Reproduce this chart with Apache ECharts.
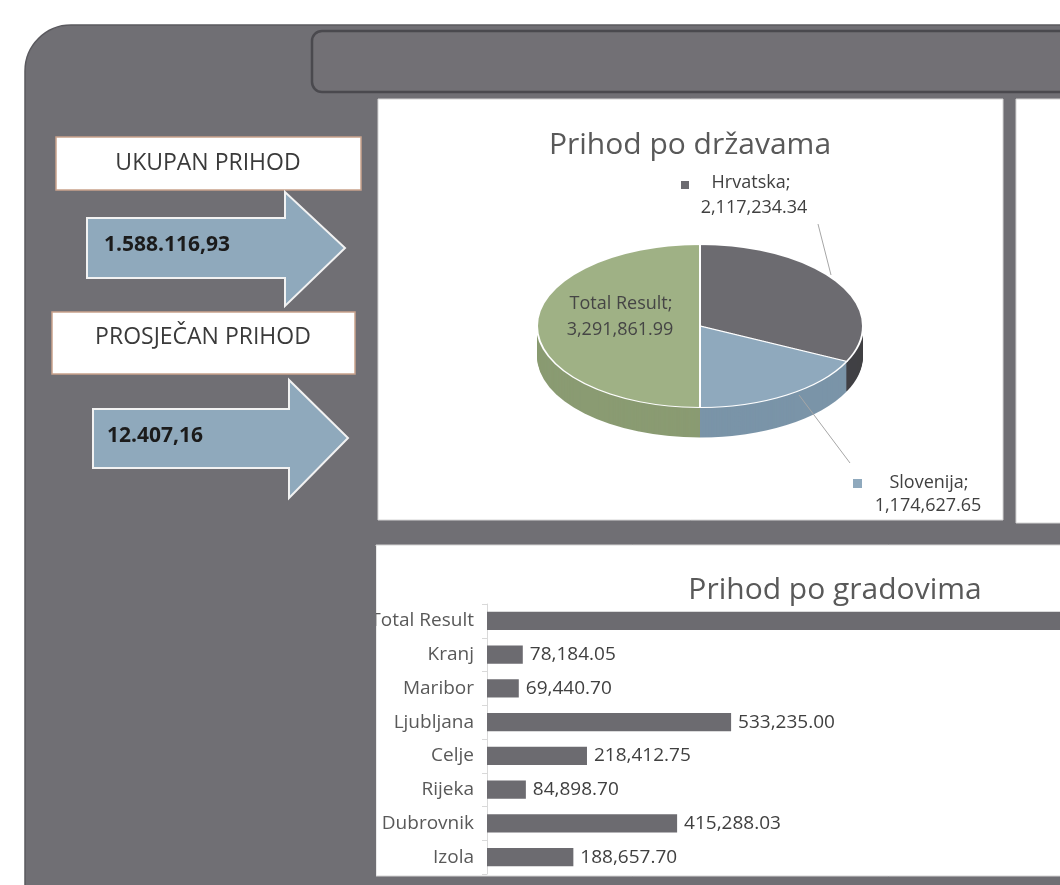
<!DOCTYPE html>
<html><head><meta charset="utf-8">
<script src="https://cdn.jsdelivr.net/npm/echarts@6/dist/echarts.min.js"></script>
<style>
html,body{margin:0;padding:0;overflow:hidden;background:#fff;width:1060px;height:885px;}
#main{position:absolute;left:0;top:0;width:1400px;height:885px;}
#pie{position:absolute;left:500px;top:236px;width:400px;height:460px;transform:scaleY(0.5);transform-origin:0 0;}
#over{position:absolute;left:0;top:0;width:1060px;height:885px;pointer-events:none;}
</style></head><body>
<div id="main"></div><div id="pie"></div><div id="over"></div>
<script>
// ---------- data ----------
const kpiLabels = ['UKUPAN PRIHOD', 'PROSJEČAN PRIHOD'];
const kpiValues = [1588116.93, 12407.16];
const pieTitle = 'Prihod po državama';
const countries = ['Hrvatska', 'Slovenija', 'Total Result'];
const countryValues = [2117234.34, 1174627.65, 3291861.99];
const barTitle = 'Prihod po gradovima';
const cities = ['Total Result', 'Kranj', 'Maribor', 'Ljubljana', 'Celje', 'Rijeka', 'Dubrovnik', 'Izola'];
const cityValues = [1588116.93, 78184.05, 69440.70, 533235.00, 218412.75, 84898.70, 415288.03, 188657.70];

// ---------- helpers ----------
function group3(s, sep) { return s.replace(/\B(?=(\d{3})+$)/g, sep); }
function fmtEN(n) { const p = n.toFixed(2).split('.'); return group3(p[0], ',') + '.' + p[1]; }
function fmtHR(n) { const p = n.toFixed(2).split('.'); return group3(p[0], '.') + ',' + p[1]; }

const FONT = '"Open Sans", "Noto Sans", sans-serif';
const BG = '#706f74';
const topColors = ['#6c6b70', '#8fa9bd', '#9fb185'];
const sideColors = ['#414045', '#7a94a8', '#8a9b72'];

// ---------- main dashboard ----------
const main = echarts.init(document.getElementById('main'), null, {renderer: 'canvas'});
const graphic = [
  {type: 'rect', z: 0, shape: {x: 25, y: 25, width: 1500, height: 1000, r: [46, 0, 0, 0]}, style: {fill: BG, stroke: '#5a595e', lineWidth: 1.5}},
  {type: 'rect', z: 0, shape: {x: 312, y: 31, width: 1200, height: 61, r: 10}, style: {fill: '#727075', stroke: '#4a494e', lineWidth: 2.5}},
  {type: 'rect', z: 0, shape: {x: 378, y: 99, width: 625, height: 421}, style: {fill: '#fff', stroke: '#d4d4d4', lineWidth: 1}},
  {type: 'rect', z: 0, shape: {x: 1016, y: 99, width: 500, height: 424}, style: {fill: '#fff', stroke: '#d4d4d4', lineWidth: 1}},
  {type: 'rect', z: 0, shape: {x: 376, y: 545, width: 1200, height: 331}, style: {fill: '#fff', stroke: '#d4d4d4', lineWidth: 1}},
  // KPI boxes
  {type: 'rect', z: 1, shape: {x: 56, y: 137, width: 305, height: 53}, style: {fill: '#fff', stroke: '#c9a28c', lineWidth: 1.5}},
  {type: 'text', z: 2, x: 208, y: 163, style: {text: kpiLabels[0], font: '23px ' + FONT, fill: '#3a3a3a', align: 'center', verticalAlign: 'middle'}},
  {type: 'polygon', z: 1, shape: {points: [[87, 218], [285, 218], [285, 192], [345, 248], [285, 306], [285, 278], [87, 278]]}, style: {fill: '#8fa9bc', stroke: '#f2f2f2', lineWidth: 2}},
  {type: 'text', z: 2, x: 104, y: 245, style: {text: fmtHR(kpiValues[0]), font: 'bold 21px ' + FONT, fill: '#1b1b1b', align: 'left', verticalAlign: 'middle'}},
  {type: 'rect', z: 1, shape: {x: 52, y: 312, width: 303, height: 62}, style: {fill: '#fff', stroke: '#c9a28c', lineWidth: 1.5}},
  {type: 'text', z: 2, x: 203, y: 337, style: {text: kpiLabels[1], font: '23px ' + FONT, fill: '#3a3a3a', align: 'center', verticalAlign: 'middle'}},
  {type: 'polygon', z: 1, shape: {points: [[93, 409], [289, 409], [289, 380], [348, 438], [289, 498], [289, 468], [93, 468]]}, style: {fill: '#8fa9bc', stroke: '#f2f2f2', lineWidth: 2}},
  {type: 'text', z: 2, x: 107, y: 436, style: {text: fmtHR(kpiValues[1]), font: 'bold 21px ' + FONT, fill: '#1b1b1b', align: 'left', verticalAlign: 'middle'}},
  // titles
  {type: 'text', z: 2, x: 690, y: 145, style: {text: pieTitle, font: '30px ' + FONT, fill: '#595959', align: 'center', verticalAlign: 'middle'}},
  {type: 'text', z: 2, x: 835, y: 590, style: {text: barTitle, font: '30px ' + FONT, fill: '#595959', align: 'center', verticalAlign: 'middle'}},
  // cover strip (clips the cut-off axis label at the panel edge)
  {type: 'rect', z: 100, shape: {x: 26, y: 546, width: 350, height: 340}, style: {fill: BG}}
];

main.setOption({
  animation: false,
  backgroundColor: '#fff',
  graphic: graphic,
  grid: {left: 487, top: 604, height: 270, width: 824},
  xAxis: {type: 'value', min: 0, max: 1800000, show: false, splitLine: {show: false}},
  yAxis: {
    type: 'category', data: cities, inverse: true,
    axisLine: {show: true, lineStyle: {color: '#d9d9d9', width: 1}},
    axisTick: {show: true, length: 5, lineStyle: {color: '#d9d9d9'}},
    axisLabel: {color: '#595959', fontSize: 19, fontFamily: FONT, margin: 13}
  },
  series: [{
    type: 'bar', data: cityValues, barCategoryGap: '46%', z: 5,
    itemStyle: {color: '#6c6b70'},
    label: {show: true, position: 'right', distance: 7, color: '#404040', fontSize: 19, fontFamily: FONT,
      formatter: p => fmtEN(p.value)},
    silent: true
  }]
});

// ---------- pseudo-3D pie (vertically squashed) ----------
const pie = echarts.init(document.getElementById('pie'), null, {renderer: 'canvas'});
const pieData = (colors, border) => countries.map((c, i) => ({
  name: c, value: countryValues[i],
  itemStyle: {color: colors[i], borderColor: border ? '#ffffff' : colors[i], borderWidth: border ? 2 : 0}
}));
const pieSeries = [];
const DEPTH = 30;
for (let k = DEPTH; k >= 1; k--) {
  pieSeries.push({
    type: 'pie', radius: 163, center: [200, 180 + 2 * k], startAngle: 90, clockwise: true,
    silent: true, label: {show: false}, labelLine: {show: false}, emphasis: {disabled: true},
    data: pieData(sideColors, false)
  });
}
pieSeries.push({
  type: 'pie', radius: 163, center: [200, 180], startAngle: 90, clockwise: true,
  silent: true, label: {show: false}, labelLine: {show: false}, emphasis: {disabled: true},
  data: pieData(topColors, true)
});
pie.setOption({animation: false, series: pieSeries});

// ---------- pie labels overlay ----------
const over = echarts.init(document.getElementById('over'), null, {renderer: 'canvas'});
const LF = '18px ' + FONT;
over.setOption({
  animation: false,
  graphic: [
    {type: 'line', shape: {x1: 818, y1: 224, x2: 831, y2: 275}, style: {stroke: '#a6a6a6', lineWidth: 1}},
    {type: 'line', shape: {x1: 799, y1: 395, x2: 850, y2: 463}, style: {stroke: '#a6a6a6', lineWidth: 1}},
    {type: 'rect', shape: {x: 681, y: 181, width: 8, height: 8}, style: {fill: topColors[0]}},
    {type: 'text', x: 751, y: 183, style: {text: countries[0] + ';', font: LF, fill: '#404040', align: 'center', verticalAlign: 'middle'}},
    {type: 'text', x: 754, y: 208, style: {text: fmtEN(countryValues[0]), font: LF, fill: '#404040', align: 'center', verticalAlign: 'middle'}},
    {type: 'rect', shape: {x: 853, y: 479, width: 9, height: 9}, style: {fill: topColors[1]}},
    {type: 'text', x: 929, y: 483, style: {text: countries[1] + ';', font: LF, fill: '#404040', align: 'center', verticalAlign: 'middle'}},
    {type: 'text', x: 928, y: 506, style: {text: fmtEN(countryValues[1]), font: LF, fill: '#404040', align: 'center', verticalAlign: 'middle'}},
    {type: 'text', x: 621, y: 304, style: {text: countries[2] + ';', font: LF, fill: '#454545', align: 'center', verticalAlign: 'middle'}},
    {type: 'text', x: 620, y: 330, style: {text: fmtEN(countryValues[2]), font: LF, fill: '#454545', align: 'center', verticalAlign: 'middle'}}
  ]
});
</script>
</body></html>
